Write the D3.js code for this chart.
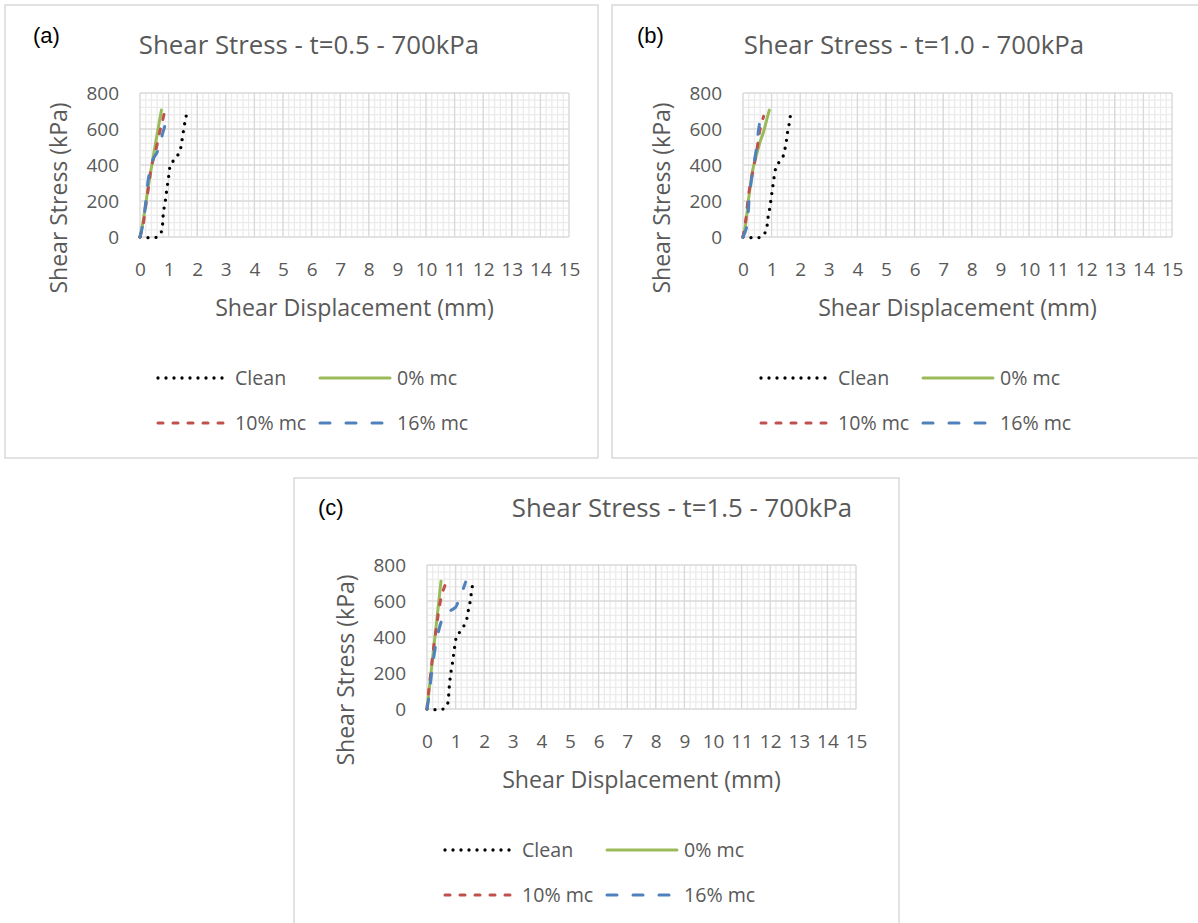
<!DOCTYPE html>
<html>
<head>
<meta charset="utf-8">
<script src="https://cdnjs.cloudflare.com/ajax/libs/d3/7.8.5/d3.min.js"></script>
<style>
  body { margin: 0; background: #fff; }
  svg text { font-family: "Open Sans", sans-serif; fill: #595959; }
</style>
</head>
<body>
<svg id="chart" width="1198" height="923"></svg>
<script>
// tick values
const xTicks = d3.range(0, 16);          // Shear Displacement (mm)
const yTicks = [0, 200, 400, 600, 800];  // Shear Stress (kPa)
const seriesNames = ["Clean", "0% mc", "10% mc", "16% mc"];
const panelLabels = ["(a)", "(b)", "(c)"];
const panelTitles = [
  "Shear Stress - t=0.5 - 700kPa",
  "Shear Stress - t=1.0 - 700kPa",
  "Shear Stress - t=1.5 - 700kPa"
];

// (a) t=0.5  -- [displacement mm, stress kPa]
const cleanA = [[0, 0], [0.6, 0], [0.75, 30], [0.79, 70], [0.81, 120], [0.85, 170], [0.9, 215], [0.93, 255],
  [0.97, 300], [1.01, 345], [1.05, 390], [1.15, 420], [1.3, 450], [1.4, 480], [1.45, 520], [1.5, 570],
  [1.55, 620], [1.6, 660], [1.65, 700]];
const mc0A = [[0, 0], [0.1, 80], [0.3, 290], [0.5, 480], [0.75, 705]];
const mc10A = [[0, 0], [0.1, 60], [0.2, 170], [0.3, 280], [0.4, 390], [0.55, 480], [0.7, 590], [0.78, 640], [0.87, 705]];
const mc16A = [[0, 0], [0.1, 70], [0.2, 190], [0.3, 330], [0.45, 430], [0.58, 465], [0.67, 500], [0.81, 585], [0.92, 640], [1.0, 665]];

// (b) t=1.0
const cleanB = [[0, 0], [0.64, 0], [0.79, 30], [0.85, 70], [0.88, 113], [0.93, 155], [0.97, 198], [1.01, 245],
  [1.05, 290], [1.1, 345], [1.16, 390], [1.28, 420], [1.42, 455], [1.48, 500], [1.53, 548], [1.57, 594],
  [1.63, 641], [1.67, 687], [1.7, 700]];
const mc0B = [[0, 0], [0.09, 67], [0.17, 178], [0.26, 289], [0.35, 381], [0.47, 455], [0.6, 530], [0.72, 585], [0.81, 640], [0.92, 705]];
const mc10B = [[0, 0], [0.1, 100], [0.2, 240], [0.3, 330], [0.4, 410], [0.5, 500], [0.6, 600], [0.72, 670]];
const mc16B = [[0, 0], [0.12, 50], [0.23, 233], [0.35, 381], [0.47, 490], [0.53, 580], [0.58, 640], [0.56, 690]];

// (c) t=1.5
const cleanC = [[0, 0], [0.56, 0], [0.72, 30], [0.76, 80], [0.78, 126], [0.81, 172], [0.85, 218], [0.9, 265],
  [0.93, 302], [0.97, 348], [1.02, 394], [1.1, 417], [1.28, 459], [1.4, 506], [1.45, 552], [1.51, 598],
  [1.55, 644], [1.59, 687]];
const mc0C = [[0, 0], [0.25, 360], [0.49, 710]];
const mc10C = [[0, 0], [0.06, 100], [0.14, 211], [0.23, 341], [0.33, 452], [0.41, 544], [0.52, 637], [0.6, 674], [0.67, 705]];
const mc16C = [[0, 0], [0.06, 60], [0.17, 210], [0.3, 350], [0.45, 460], [0.6, 520], [0.8, 545], [1.0, 565],
  [1.1, 600], [1.18, 630], [1.35, 705]];

// styles per series
const seriesStyle = [
  { color: "#000000", dash: "0,8", width: 3.3 },
  { color: "#9bbb59", dash: null, width: 3 },
  { color: "#c0504d", dash: "5,10", width: 3 },
  { color: "#4f81bd", dash: "10,16", width: 3 }
];

// layout of the three chart boxes
const panels = [
  { box: [5, 5, 593, 453], left: 140, top: 93, labelX: 33, labelY: 35, titleX: 309, titleY: 45, series: [cleanA, mc0A, mc10A, mc16A] },
  { box: [612, 5, 600, 453], left: 743, top: 93, labelX: 637, labelY: 35, titleX: 914, titleY: 45, series: [cleanB, mc0B, mc10B, mc16B] },
  { box: [294, 478, 605, 460], left: 427, top: 565, labelX: 318, labelY: 507, titleX: 682, titleY: 508, series: [cleanC, mc0C, mc10C, mc16C] }
];
const plotW = 429, plotH = 144;

const svg = d3.select("#chart");

panels.forEach((p, i) => drawPanel(p, i));

function drawPanel(p, i) {
  const g = svg.append("g");

  g.append("rect")
    .attr("x", p.box[0]).attr("y", p.box[1])
    .attr("width", p.box[2]).attr("height", p.box[3])
    .attr("fill", "#fff").attr("stroke", "#d9d9d9").attr("stroke-width", 1.5);

  g.append("text")
    .attr("x", p.labelX).attr("y", p.labelY).attr("dy", ".35em")
    .style("font-family", "'Liberation Sans', Arial, sans-serif")
    .style("fill", "#000").style("font-size", "22px")
    .text(panelLabels[i]);

  g.append("text")
    .attr("x", p.titleX).attr("y", p.titleY).attr("dy", ".35em")
    .attr("text-anchor", "middle").style("font-size", "25.8px")
    .text(panelTitles[i]);

  const x = d3.scaleLinear().domain([0, 15]).range([p.left, p.left + plotW]);
  const y = d3.scaleLinear().domain([0, 800]).range([p.top + plotH, p.top]);

  // minor grid
  const minorX = d3.range(0, 15.001, 0.2).filter(v => Math.abs(v - Math.round(v)) > 1e-6);
  const minorY = d3.range(0, 800.001, 40).filter(v => v % 200 !== 0);
  g.append("g").selectAll("line").data(minorX).join("line")
    .attr("x1", d => x(d)).attr("x2", d => x(d))
    .attr("y1", y(0)).attr("y2", y(800))
    .attr("stroke", "#ebebeb").attr("stroke-width", 1.3);
  g.append("g").selectAll("line").data(minorY).join("line")
    .attr("x1", x(0)).attr("x2", x(15))
    .attr("y1", d => y(d)).attr("y2", d => y(d))
    .attr("stroke", "#ebebeb").attr("stroke-width", 1.3);

  // major grid
  g.append("g").selectAll("line").data(xTicks).join("line")
    .attr("x1", d => x(d)).attr("x2", d => x(d))
    .attr("y1", y(0)).attr("y2", y(800))
    .attr("stroke", "#d9d9d9").attr("stroke-width", 1.4);
  g.append("g").selectAll("line").data(yTicks).join("line")
    .attr("x1", x(0)).attr("x2", x(15))
    .attr("y1", d => y(d)).attr("y2", d => y(d))
    .attr("stroke", "#d9d9d9").attr("stroke-width", 1.4);

  // axes (labels only)
  const xAxis = g.append("g")
    .attr("transform", `translate(0, ${y(0)})`)
    .call(d3.axisBottom(x).tickValues(xTicks).tickSize(0).tickPadding(26));
  const yAxis = g.append("g")
    .attr("transform", `translate(${x(0)}, 0)`)
    .call(d3.axisLeft(y).tickValues(yTicks).tickSize(0).tickPadding(21));
  [xAxis, yAxis].forEach(a => {
    a.select(".domain").remove();
    a.selectAll("text").style("font-size", "19px").style("fill", "#595959")
      .style("font-family", "'Open Sans', sans-serif");
  });

  // axis titles
  g.append("text")
    .attr("x", p.left + plotW / 2).attr("y", p.top + plotH + 71).attr("dy", ".35em")
    .attr("text-anchor", "middle").style("font-size", "23.2px")
    .text("Shear Displacement (mm)");
  g.append("text")
    .attr("transform", `translate(${p.left - 81}, ${p.top + 105}) rotate(-90)`)
    .attr("dy", ".35em").attr("text-anchor", "middle").style("font-size", "23px")
    .text("Shear Stress (kPa)");

  // series lines
  const line = d3.line()
    .x(d => x(d[0]))
    .y(d => y(d[1]))
    .curve(d3.curveCatmullRom.alpha(0.5));

  p.series.forEach((data, k) => {
    g.append("path")
      .datum(data)
      .attr("fill", "none")
      .attr("stroke", seriesStyle[k].color)
      .attr("stroke-width", seriesStyle[k].width)
      .attr("stroke-linecap", "round")
      .attr("stroke-dasharray", seriesStyle[k].dash)
      .attr("d", line);
  });

  // legend
  const legendPos = [[18, 141], [180, 141], [18, 186], [180, 186]];
  seriesNames.forEach((name, k) => {
    const lx = p.left + legendPos[k][0];
    const ly = p.top + plotH + legendPos[k][1];
    g.append("line")
      .attr("x1", lx).attr("x2", lx + 70)
      .attr("y1", ly).attr("y2", ly)
      .attr("stroke", seriesStyle[k].color)
      .attr("stroke-width", seriesStyle[k].width)
      .attr("stroke-linecap", "round")
      .attr("stroke-dasharray", seriesStyle[k].dash);
    g.append("text")
      .attr("x", lx + 77).attr("y", ly).attr("dy", ".35em")
      .style("font-size", "19.6px")
      .text(name);
  });
}
</script>
</body>
</html>
